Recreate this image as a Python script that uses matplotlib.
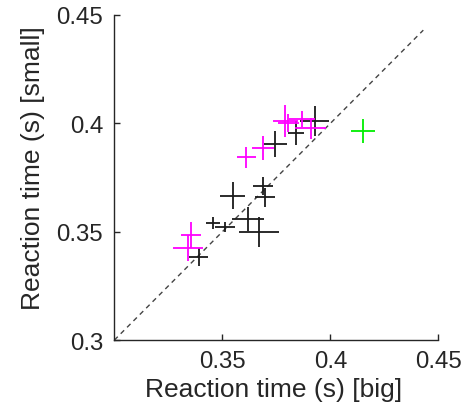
import matplotlib
matplotlib.use("Agg")
import matplotlib.pyplot as plt

plt.rcParams['font.family'] = ['Liberation Sans', 'DejaVu Sans']

# black group
black_x = [0.3549, 0.3688, 0.3696, 0.3457, 0.3511, 0.3619, 0.3669, 0.3391, 0.3745, 0.3842, 0.3927]
black_y = [0.3666, 0.3710, 0.3659, 0.3539, 0.3523, 0.3559, 0.3500, 0.3382, 0.3905, 0.3956, 0.4012]
black_xerr = [0.0058, 0.0048, 0.0046, 0.0031, 0.0046, 0.0075, 0.0092, 0.0044, 0.0054, 0.0038, 0.0068]
black_yerr = [0.0062, 0.0042, 0.0044, 0.0027, 0.0023, 0.0056, 0.0070, 0.0042, 0.0062, 0.0055, 0.0069]

# magenta group
mag_x = [0.3791, 0.3806, 0.3868, 0.3908, 0.3688, 0.3611, 0.3353, 0.3342]
mag_y = [0.4012, 0.4002, 0.4020, 0.3977, 0.3885, 0.3843, 0.3485, 0.3425]
mag_xerr = [0.0057, 0.0050, 0.0060, 0.0073, 0.0050, 0.0045, 0.0046, 0.0069]
mag_yerr = [0.0073, 0.0040, 0.0036, 0.0050, 0.0056, 0.0048, 0.0058, 0.0061]

# green point
green_x = [0.4150]
green_y = [0.3966]
green_xerr = [0.0056]
green_yerr = [0.0055]

diag = [0.3, 0.443]
ticks_x = [0.35, 0.4, 0.45]
ticks_y = [0.3, 0.35, 0.4, 0.45]
tick_labels_x = ['0.35', '0.4', '0.45']
tick_labels_y = ['0.3', '0.35', '0.4', '0.45']

fig = plt.figure(figsize=(4.61, 4.10), dpi=100)
ax = fig.add_axes([0.248, 0.168, 0.703, 0.793])

ax.plot(diag, diag, linestyle=(0, (3.5, 3)), color='#444444', lw=1.0, zorder=1)

ax.errorbar(black_x, black_y, xerr=black_xerr, yerr=black_yerr, fmt='none',
            ecolor='#1a1a1a', elinewidth=1.3, capsize=0, zorder=2)
ax.errorbar(mag_x, mag_y, xerr=mag_xerr, yerr=mag_yerr, fmt='none',
            ecolor='#ff00ff', elinewidth=1.3, capsize=0, zorder=3)
ax.errorbar(green_x, green_y, xerr=green_xerr, yerr=green_yerr, fmt='none',
            ecolor='#00ee00', elinewidth=1.3, capsize=0, zorder=3)

ax.set_xlim(0.3, 0.45)
ax.set_ylim(0.3, 0.45)
ax.set_xticks(ticks_x)
ax.set_xticklabels(tick_labels_x)
ax.set_yticks(ticks_y)
ax.set_yticklabels(tick_labels_y)

for s in ['top', 'right']:
    ax.spines[s].set_visible(False)
for s in ['left', 'bottom']:
    ax.spines[s].set_linewidth(1.0)
    ax.spines[s].set_color('#262626')

ax.tick_params(direction='in', length=4.5, width=1.0, colors='#262626',
               labelsize=17.3, labelcolor='#262626')
ax.tick_params(axis='x', pad=7)
ax.tick_params(axis='y', pad=8)

ax.set_xlabel('Reaction time (s) [big]', fontsize=19, color='#262626')
ax.set_ylabel('Reaction time (s) [small]', fontsize=19, color='#262626')
ax.xaxis.set_label_coords(0.49, -0.112)
ax.yaxis.set_label_coords(-0.214, 0.531)

fig.savefig('out.png', dpi=100)
